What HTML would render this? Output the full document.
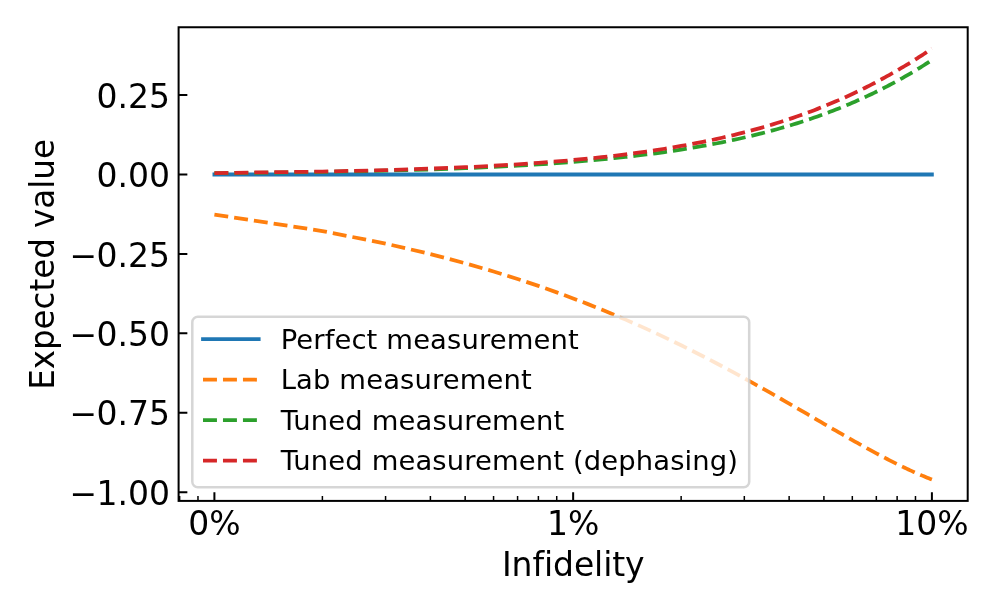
<!DOCTYPE html>
<html lang="en"><head><meta charset="utf-8"><title>Expected value vs infidelity</title>
<style>
html,body{margin:0;padding:0;background:#fff;}
body{width:996px;height:612px;overflow:hidden;}
svg{display:block;}
text{font-family:"DejaVu Sans","Liberation Sans",sans-serif;fill:#000;font-variant-ligatures:none;font-feature-settings:"liga" 0,"clig" 0;}
.t{font-size:33px;}
.l{font-size:27.4px;}
</style></head><body>
<svg width="996" height="612" viewBox="0 0 996 612">
<rect width="996" height="612" fill="#fff"/>
<defs><clipPath id="c"><rect x="178.6" y="27.25" width="789.1" height="473.65"/></clipPath></defs>
<g clip-path="url(#c)" fill="none" stroke-width="3.769">
<path d="M214.40 174.50 L931.90 174.50" stroke="#1f77b4" stroke-linecap="square"/>
<path d="M214.40 214.59 L322.39 231.05 L385.57 243.58 L430.39 254.07 L465.16 263.24 L493.56 271.46 L517.58 278.97 L538.38 285.90 L556.73 292.35 L573.15 298.41 L588.00 304.13 L601.56 309.55 L614.03 314.71 L625.57 319.63 L636.32 324.33 L646.38 328.85 L655.82 333.19 L664.73 337.37 L673.15 341.40 L681.14 345.30 L688.75 349.06 L695.99 352.70 L702.92 356.23 L709.55 359.66 L715.91 362.98 L722.02 366.21 L727.90 369.35 L733.57 372.41 L739.04 375.38 L744.32 378.28 L749.43 381.10 L754.37 383.85 L759.17 386.53 L763.82 389.15 L768.33 391.70 L772.72 394.19 L776.99 396.63 L781.15 399.01 L785.19 401.33 L789.14 403.60 L792.99 405.82 L796.74 408.00 L800.41 410.12 L803.99 412.20 L807.49 414.23 L810.91 416.22 L814.27 418.17 L817.55 420.08 L820.76 421.94 L823.91 423.77 L826.99 425.56 L830.02 427.31 L832.98 429.02 L835.90 430.70 L838.76 432.35 L841.56 433.96 L844.32 435.54 L847.03 437.08 L849.69 438.60 L852.31 440.08 L854.89 441.54 L857.42 442.96 L859.91 444.35 L862.37 445.72 L864.78 447.06 L867.16 448.37 L869.50 449.65 L871.81 450.91 L874.09 452.14 L876.33 453.35 L878.54 454.53 L880.72 455.68 L882.87 456.82 L884.99 457.92 L887.08 459.01 L889.14 460.07 L891.18 461.11 L893.19 462.13 L895.17 463.12 L897.13 464.10 L899.07 465.05 L900.98 465.98 L902.87 466.89 L904.74 467.78 L906.58 468.65 L908.40 469.51 L910.20 470.34 L911.98 471.15 L913.74 471.94 L915.48 472.72 L917.21 473.47 L918.91 474.21 L920.59 474.93 L922.26 475.64 L923.91 476.32 L925.54 476.99 L927.15 477.64 L928.75 478.27 L930.33 478.89 L931.90 479.49" stroke="#ff7f0e" stroke-dasharray="13.945 6.030" stroke-linejoin="round"/>
<path d="M214.40 173.23 L322.39 171.96 L385.57 170.70 L430.39 169.44 L465.16 168.18 L493.56 166.92 L517.58 165.67 L538.38 164.41 L556.73 163.17 L573.15 161.92 L588.00 160.67 L601.56 159.43 L614.03 158.19 L625.57 156.96 L636.32 155.72 L646.38 154.49 L655.82 153.26 L664.73 152.04 L673.15 150.81 L681.14 149.59 L688.75 148.37 L695.99 147.16 L702.92 145.94 L709.55 144.73 L715.91 143.52 L722.02 142.32 L727.90 141.11 L733.57 139.91 L739.04 138.72 L744.32 137.52 L749.43 136.33 L754.37 135.14 L759.17 133.95 L763.82 132.76 L768.33 131.58 L772.72 130.40 L776.99 129.22 L781.15 128.04 L785.19 126.87 L789.14 125.70 L792.99 124.53 L796.74 123.37 L800.41 122.21 L803.99 121.05 L807.49 119.89 L810.91 118.73 L814.27 117.58 L817.55 116.43 L820.76 115.28 L823.91 114.14 L826.99 112.99 L830.02 111.85 L832.98 110.72 L835.90 109.58 L838.76 108.45 L841.56 107.32 L844.32 106.19 L847.03 105.07 L849.69 103.95 L852.31 102.83 L854.89 101.71 L857.42 100.60 L859.91 99.48 L862.37 98.37 L864.78 97.27 L867.16 96.16 L869.50 95.06 L871.81 93.96 L874.09 92.87 L876.33 91.77 L878.54 90.68 L880.72 89.59 L882.87 88.50 L884.99 87.42 L887.08 86.34 L889.14 85.26 L891.18 84.18 L893.19 83.11 L895.17 82.04 L897.13 80.97 L899.07 79.90 L900.98 78.84 L902.87 77.78 L904.74 76.72 L906.58 75.66 L908.40 74.61 L910.20 73.56 L911.98 72.51 L913.74 71.46 L915.48 70.42 L917.21 69.38 L918.91 68.34 L920.59 67.31 L922.26 66.27 L923.91 65.24 L925.54 64.21 L927.15 63.19 L928.75 62.17 L930.33 61.15 L931.90 60.13" stroke="#2ca02c" stroke-dasharray="13.945 6.030" stroke-linejoin="round"/>
<path d="M214.40 173.03 L322.39 171.57 L385.57 170.12 L430.39 168.66 L465.16 167.21 L493.56 165.77 L517.58 164.33 L538.38 162.89 L556.73 161.46 L573.15 160.03 L588.00 158.61 L601.56 157.19 L614.03 155.77 L625.57 154.36 L636.32 152.96 L646.38 151.55 L655.82 150.15 L664.73 148.76 L673.15 147.37 L681.14 145.98 L688.75 144.60 L695.99 143.22 L702.92 141.85 L709.55 140.48 L715.91 139.12 L722.02 137.76 L727.90 136.40 L733.57 135.05 L739.04 133.70 L744.32 132.35 L749.43 131.01 L754.37 129.68 L759.17 128.35 L763.82 127.02 L768.33 125.70 L772.72 124.38 L776.99 123.06 L781.15 121.75 L785.19 120.45 L789.14 119.14 L792.99 117.85 L796.74 116.55 L800.41 115.26 L803.99 113.98 L807.49 112.70 L810.91 111.42 L814.27 110.15 L817.55 108.88 L820.76 107.61 L823.91 106.35 L826.99 105.10 L830.02 103.85 L832.98 102.60 L835.90 101.35 L838.76 100.12 L841.56 98.88 L844.32 97.65 L847.03 96.42 L849.69 95.20 L852.31 93.98 L854.89 92.77 L857.42 91.56 L859.91 90.35 L862.37 89.15 L864.78 87.95 L867.16 86.76 L869.50 85.57 L871.81 84.39 L874.09 83.21 L876.33 82.03 L878.54 80.86 L880.72 79.69 L882.87 78.53 L884.99 77.37 L887.08 76.21 L889.14 75.06 L891.18 73.91 L893.19 72.77 L895.17 71.63 L897.13 70.50 L899.07 69.37 L900.98 68.24 L902.87 67.12 L904.74 66.00 L906.58 64.89 L908.40 63.78 L910.20 62.67 L911.98 61.57 L913.74 60.48 L915.48 59.38 L917.21 58.30 L918.91 57.21 L920.59 56.13 L922.26 55.06 L923.91 53.99 L925.54 52.92 L927.15 51.85 L928.75 50.80 L930.33 49.74 L931.90 48.69" stroke="#d62728" stroke-dasharray="13.945 6.030" stroke-linejoin="round"/>
</g>
<g stroke="#000" fill="none">
<path d="M214.40 500.9 v-8.75 M573.15 500.9 v-8.75 M931.90 500.9 v-8.75" stroke-width="2"/>
<path d="M179.63 500.9 v-5 M197.98 500.9 v-5 M322.39 500.9 v-5 M385.57 500.9 v-5 M430.39 500.9 v-5 M465.16 500.9 v-5 M493.56 500.9 v-5 M517.58 500.9 v-5 M538.38 500.9 v-5 M556.73 500.9 v-5 M681.14 500.9 v-5 M744.32 500.9 v-5 M789.14 500.9 v-5 M823.91 500.9 v-5 M852.31 500.9 v-5 M876.33 500.9 v-5 M897.13 500.9 v-5 M915.48 500.9 v-5" stroke-width="1.5"/>
<path d="M178.6 95.08 h8.75 M178.6 174.50 h8.75 M178.6 253.93 h8.75 M178.6 333.35 h8.75 M178.6 412.77 h8.75 M178.6 492.20 h8.75" stroke-width="2"/>
<rect x="178.6" y="27.25" width="789.10" height="473.65" stroke-width="2" stroke-linejoin="miter"/>
</g>
<g class="t">
<text x="170.00" y="108" text-anchor="end">0.25</text>
<text x="170.00" y="187" text-anchor="end">0.00</text>
<text x="169.15" y="267" text-anchor="end"><tspan dx="0.8">−</tspan><tspan dx="-0.8">0.25</tspan></text>
<text x="169.15" y="346" text-anchor="end"><tspan dx="0.8">−</tspan><tspan dx="-0.8">0.50</tspan></text>
<text x="169.15" y="425" text-anchor="end"><tspan dx="0.8">−</tspan><tspan dx="-0.8">0.75</tspan></text>
<text x="169.15" y="505" text-anchor="end"><tspan dx="0.8">−</tspan><tspan dx="-0.8">1.00</tspan></text>
<text x="214.40" y="534.8" text-anchor="middle">0%</text>
<text x="573.15" y="534.8" text-anchor="middle">1%</text>
<text x="931.90" y="534.8" text-anchor="middle">10%</text>
<text x="573.25" y="576.1" text-anchor="middle" style="letter-spacing:-0.09px">Infidelity</text>
<text transform="translate(53.5 264.47) rotate(-90) scale(1 1.03)" text-anchor="middle" style="font-size:32.5px">Expected value</text>
</g>
<rect x="192.3" y="316.65" width="556.90" height="170.50" rx="5.5" ry="5.5" fill="#fff" fill-opacity="0.8" stroke="#ccc" stroke-opacity="0.8" stroke-width="2.5"/>
<g class="l">
<path d="M203.00 339.15 H258.70" stroke="#1f77b4" stroke-width="3.769" fill="none" stroke-linecap="square"/>
<text x="280.65" y="349.00" textLength="298.06">Perfect measurement</text>
<path d="M203.00 379.70 H258.70" stroke="#ff7f0e" stroke-width="3.769" fill="none" stroke-dasharray="13.945 6.030"/>
<text x="280.65" y="389.00" textLength="251.18">Lab measurement</text>
<path d="M203.00 420.10 H258.70" stroke="#2ca02c" stroke-width="3.769" fill="none" stroke-dasharray="13.945 6.030"/>
<text x="280.65" y="430.00" textLength="283.52">Tuned measurement</text>
<path d="M203.00 460.60 H258.70" stroke="#d62728" stroke-width="3.769" fill="none" stroke-dasharray="13.945 6.030"/>
<text x="280.65" y="470.00" textLength="457.35">Tuned measurement (dephasing)</text>
</g>
</svg></body></html>
